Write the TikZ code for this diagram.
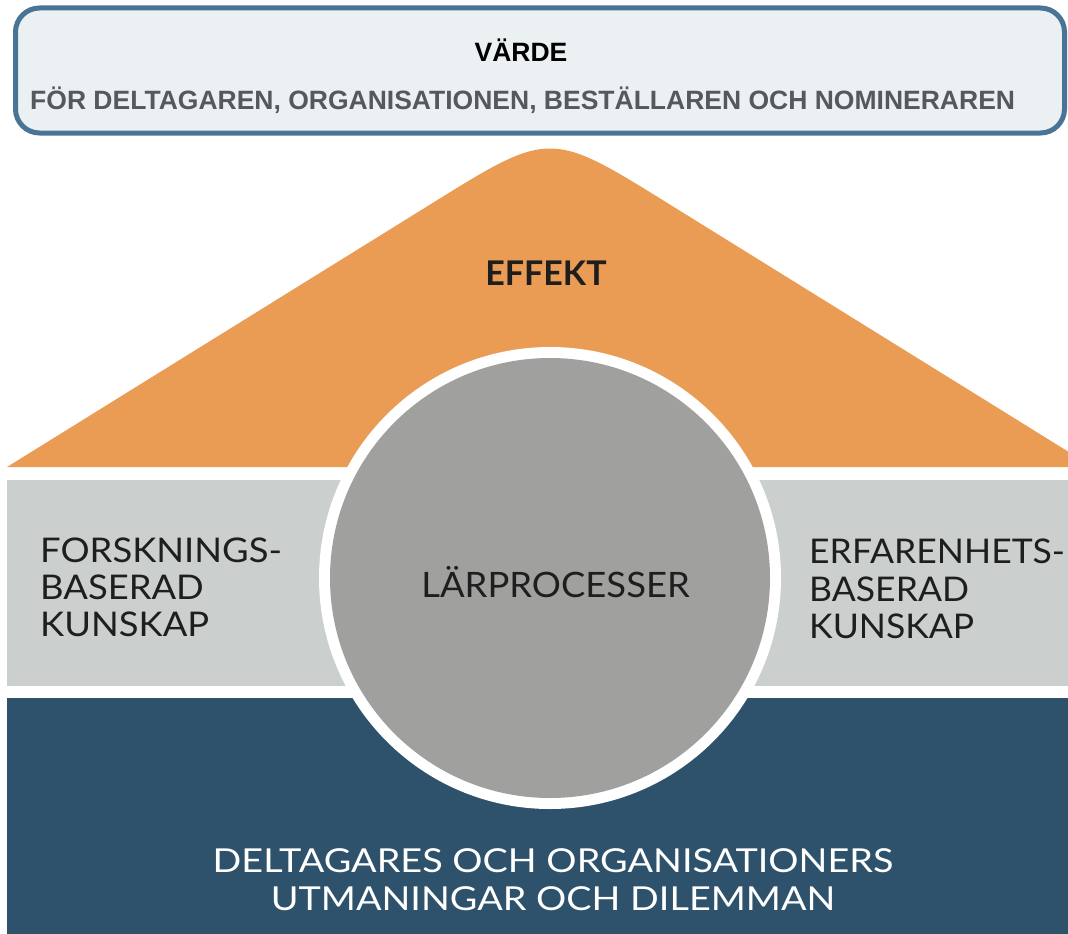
\documentclass[tikz,border=0pt]{standalone}
\usepackage{fontspec}
\setmainfont{Lato}
\newfontfamily\arialfont{Liberation Sans}
\newfontfamily\sidefont[FakeStretch=1.07]{Lato}
\newfontfamily\sidefontR[FakeStretch=1.045]{Lato}
\newfontfamily\larfont[FakeStretch=1.04]{Lato}
\newfontfamily\bottomfont[FakeStretch=1.145]{Lato}
\definecolor{orangeC}{HTML}{EA9B54}
\definecolor{bandgray}{HTML}{CBCFCE}
\definecolor{circgray}{HTML}{A0A19F}
\definecolor{darkblue}{HTML}{2E526B}
\definecolor{boxfill}{HTML}{EBF0F3}
\definecolor{boxline}{HTML}{4A7495}
\definecolor{txtdark}{HTML}{1E1E1E}
\definecolor{txtgray}{HTML}{55595C}
\tikzset{
  bigtext/.style={text=txtdark, inner sep=0pt},
  sidetext/.style={font=\sidefont\fontsize{34}{36.5}\selectfont, text=txtdark, inner sep=0pt, align=left},
  sidetextR/.style={font=\sidefontR\fontsize{34}{36.5}\selectfont, text=txtdark, inner sep=0pt, align=left},
  boxtext/.style={font=\arialfont\bfseries\fontsize{26.5}{28}\selectfont, inner sep=0pt},
}
\begin{document}
\begin{tikzpicture}[x=1pt,y=-1pt]
\useasboundingbox (0,0) rectangle (1068,934);
\begin{scope}
\clip (0,0) rectangle (1068,934);
\fill[orangeC] (7,467) -- (431,204) .. controls (550,130) and (550,130) .. (669,204) -- (1093,467) -- cycle;
\fill[bandgray] (7,480) rectangle (1068,686);
\fill[darkblue] (7,698) rectangle (1068,934);
\fill[white] (550,578) circle[radius=231pt];
\node[circle, fill=circgray, minimum size=440pt, inner sep=0pt] (circ) at (550,578) {};
\end{scope}
\node[draw=boxline, line width=5pt, fill=boxfill, rounded corners=24pt, minimum width=1049pt, minimum height=125pt, inner sep=0pt] (box) at (540,70.5) {};
\node[boxtext, text=black, anchor=base] (varde) at (521,62) {VÄRDE};
\node[boxtext, text=txtgray, anchor=base west] (for) at (30,110) {FÖR DELTAGAREN, ORGANISATIONEN, BESTÄLLAREN OCH NOMINERAREN};
\node[bigtext, font=\bfseries\fontsize{34}{36}\selectfont, anchor=base] (effekt) at (546,285) {EFFEKT};
\node[bigtext, font=\larfont\fontsize{35}{36}\selectfont, anchor=base] (lar) at (555.5,597) {LÄRPROCESSER};
\node[sidetext, anchor=base west] (fk1) at (40,562) {FORSKNINGS-};
\node[sidetext, anchor=base west] (fk2) at (40,599) {BASERAD};
\node[sidetext, anchor=base west] (fk3) at (40,636) {KUNSKAP};
\node[sidetextR, anchor=base west] (ek1) at (809,563) {ERFARENHETS-};
\node[sidetextR, anchor=base west] (ek2) at (809,601) {BASERAD};
\node[sidetextR, anchor=base west] (ek3) at (809,638) {KUNSKAP};
\node[bigtext, text=white, font=\bottomfont\fontsize{33}{36}\selectfont, anchor=base] (b1) at (553,872) {DELTAGARES OCH ORGANISATIONERS};
\node[bigtext, text=white, font=\bottomfont\fontsize{33}{36}\selectfont, anchor=base] (b2) at (553,910) {UTMANINGAR OCH DILEMMAN};
\end{tikzpicture}
\end{document}
